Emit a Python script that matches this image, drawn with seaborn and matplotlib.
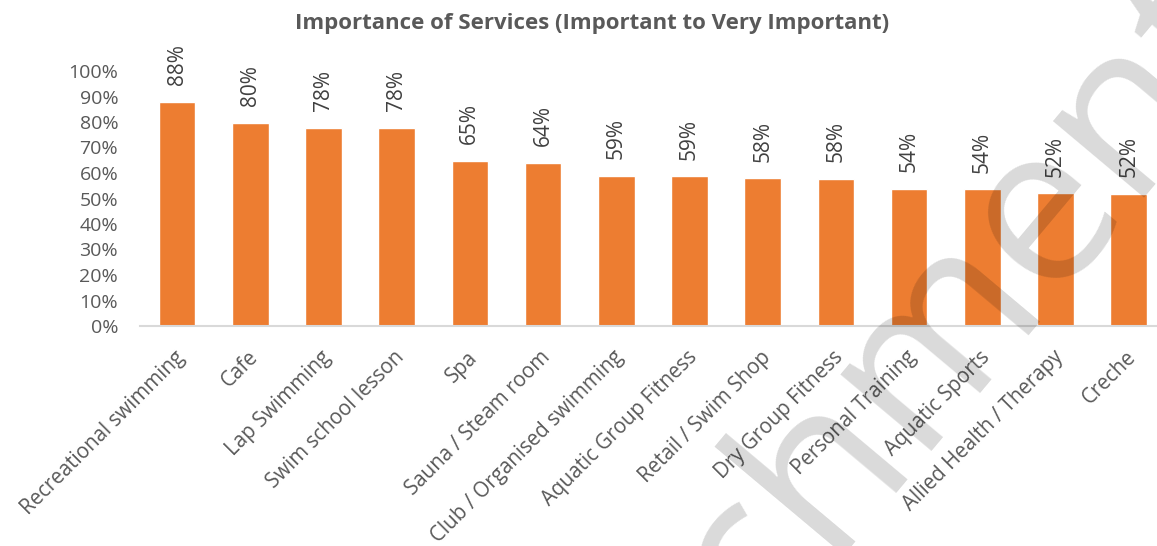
import matplotlib
matplotlib.use("Agg")
import matplotlib.pyplot as plt
import matplotlib.transforms as mtransforms
import seaborn as sns
import pandas as pd

# Share of respondents rating each service "Important" or "Very Important"
services = [
    "Recreational swimming", "Cafe", "Lap Swimming", "Swim school lesson",
    "Spa", "Sauna / Steam room", "Club / Organised swimming",
    "Aquatic Group Fitness", "Retail / Swim Shop", "Dry Group Fitness",
    "Personal Training", "Aquatic Sports", "Allied Health / Therapy", "Creche",
]
importance = [0.878, 0.797, 0.778, 0.776, 0.648, 0.639, 0.589,
              0.587, 0.579, 0.576, 0.538, 0.536, 0.520, 0.518]
y_ticks = [0.0, 0.1, 0.2, 0.3, 0.4, 0.5, 0.6, 0.7, 0.8, 0.9, 1.0]

title = "Importance of Services (Important to Very Important)"
bar_color = "#ED7D31"
text_grey = "#595959"

sns.set_theme(style="white")
plt.rcParams["font.family"] = ["Open Sans", "DejaVu Sans"]

df = pd.DataFrame({"service": services, "importance": importance})

fig = plt.figure(figsize=(11.57, 5.46), dpi=100)
ax = fig.add_axes([140.4 / 1157, 220 / 546, 1025 / 1157, 255 / 546])

sns.barplot(data=df, x="service", y="importance", color=bar_color,
            saturation=1, width=0.5, ax=ax)

ax.set_ylim(0, 1)
ax.set_xlim(-0.5, len(services) - 0.5)
ax.set_yticks(y_ticks)
ax.set_yticklabels([f"{t:.0%}" for t in y_ticks])
ax.set_xlabel("")
ax.set_ylabel("")

for side in ("top", "right", "left"):
    ax.spines[side].set_visible(False)
ax.spines["bottom"].set_color("#d9d9d9")
ax.spines["bottom"].set_linewidth(1.5)

ax.tick_params(axis="y", length=0, pad=16, labelsize=14, labelcolor=text_grey)
ax.tick_params(axis="x", length=0, pad=15, labelsize=14.8, labelcolor=text_grey)

shift = mtransforms.ScaledTranslation(-3 / 100, 0, fig.dpi_scale_trans)
for lbl in ax.get_xticklabels():
    lbl.set_rotation(45)
    lbl.set_ha("right")
    lbl.set_va("top")
    lbl.set_rotation_mode("anchor")
    lbl.set_transform(lbl.get_transform() + shift)

# Value labels above each bar
for i, v in enumerate(importance):
    ax.annotate(f"{round(v * 100):d}%", xy=(i, v), xytext=(0, 12),
                textcoords="offset points", rotation=90, ha="center",
                va="bottom", fontsize=15, color="#404040",
                annotation_clip=False)

fig.text(592 / 1157, 1 - 23 / 546, title, ha="center", va="center",
         fontsize=16, fontweight="bold", color=text_grey)

# Diagonal watermark across the lower right
fig.text(1.099, 0.915, "Attachment", rotation=50, rotation_mode="anchor",
         ha="right", va="baseline", fontsize=160, color="black",
         alpha=0.15, zorder=20)

fig.savefig("out.png", dpi=100)
